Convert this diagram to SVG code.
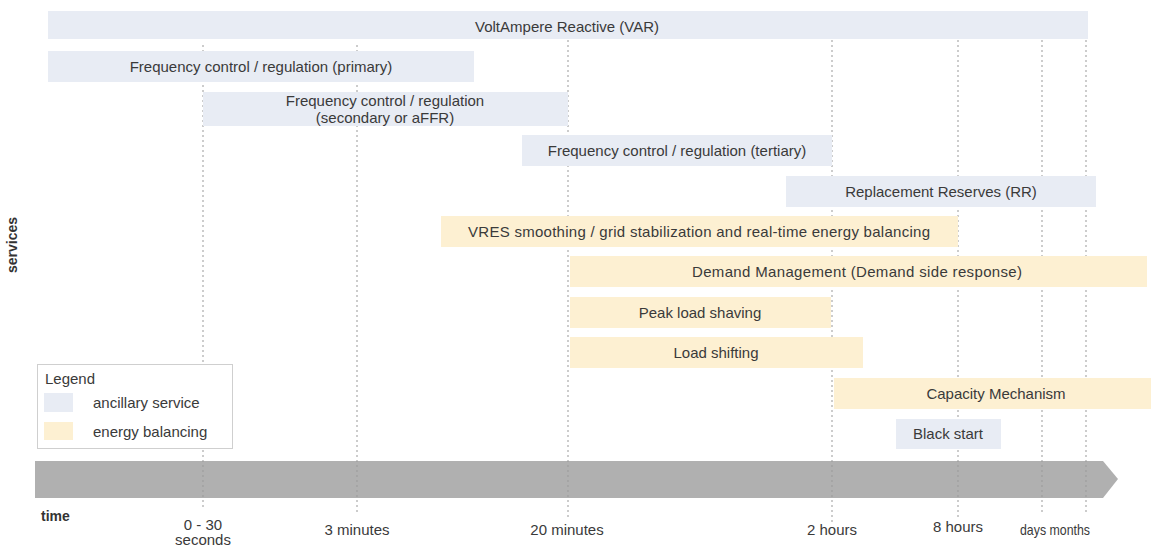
<svg xmlns="http://www.w3.org/2000/svg" width="1153" height="548" viewBox="0 0 1153 548">
<style>
  .bg{fill:#ffffff}
  .anc{fill:#e8ecf4}
  .eng{fill:#fdf0d2}
  .t{font-family:"Liberation Sans",Arial,sans-serif;font-size:15px;fill:#3a3a3a;text-anchor:middle}
  .tl{font-family:"Liberation Sans",Arial,sans-serif;font-size:15px;fill:#3a3a3a}
  .b{font-family:"Liberation Sans",Arial,sans-serif;font-size:14px;font-weight:bold;fill:#333}
  .grid{stroke:#999999;stroke-width:1;stroke-dasharray:2 3;fill:none}
</style>
<rect class="bg" x="0" y="0" width="1153" height="548"/>

<g id="time-axis">
  <polygon points="35,461 1103,461 1118,479 1103,498 35,498" fill="#b0b0b0"/>
</g>

<g id="gridlines">
  <line class="grid" x1="203" y1="45" x2="203" y2="510"/>
  <line class="grid" x1="357" y1="45" x2="357" y2="512"/>
  <line class="grid" x1="568" y1="40" x2="568" y2="520"/>
  <line class="grid" x1="832" y1="40" x2="832" y2="522"/>
  <line class="grid" x1="958" y1="40" x2="958" y2="520"/>
  <line class="grid" x1="1042" y1="40" x2="1042" y2="515"/>
  <line class="grid" x1="1086" y1="40" x2="1086" y2="512"/>
</g>

<g id="var">
  <rect class="anc" x="48" y="11" width="1040" height="28"/>
  <text class="t" x="567" y="32">VoltAmpere Reactive (VAR)</text>
</g>
<g id="primary">
  <rect class="anc" x="48" y="51" width="426" height="31"/>
  <text class="t" x="261" y="72">Frequency control / regulation (primary)</text>
</g>
<g id="secondary">
  <rect class="anc" x="203" y="92" width="365" height="34"/>
  <text class="t" x="385" y="106">Frequency control / regulation</text>
  <text class="t" x="385" y="123">(secondary or aFFR)</text>
</g>
<g id="tertiary">
  <rect class="anc" x="522" y="135" width="310" height="31"/>
  <text class="t" x="677" y="156">Frequency control / regulation (tertiary)</text>
</g>
<g id="rr">
  <rect class="anc" x="786" y="176" width="310" height="31"/>
  <text class="t" x="941" y="197">Replacement Reserves (RR)</text>
</g>
<g id="vres">
  <rect class="eng" x="441" y="216" width="517" height="31"/>
  <text class="t" x="699" y="237" textLength="462">VRES smoothing / grid stabilization and real-time energy balancing</text>
</g>
<g id="demand">
  <rect class="eng" x="570" y="256" width="577" height="31"/>
  <text class="t" x="857" y="277" textLength="330">Demand Management (Demand side response)</text>
</g>
<g id="peak">
  <rect class="eng" x="570" y="297" width="261" height="31"/>
  <text class="t" x="700" y="318">Peak load shaving</text>
</g>
<g id="shifting">
  <rect class="eng" x="570" y="337" width="293" height="31"/>
  <text class="t" x="716" y="358">Load shifting</text>
</g>
<g id="capacity">
  <rect class="eng" x="834" y="378" width="317" height="31"/>
  <text class="t" x="996" y="399">Capacity Mechanism</text>
</g>
<g id="blackstart">
  <rect class="anc" x="896" y="419" width="105" height="30"/>
  <text class="t" x="948" y="439">Black start</text>
</g>

<g id="legend">
  <rect x="37.5" y="364.5" width="195" height="84" fill="#ffffff" stroke="#cfcfcf"/>
  <text class="tl" x="45" y="384">Legend</text>
  <rect class="anc" x="44" y="393" width="29" height="19"/>
  <text class="tl" x="93" y="408">ancillary service</text>
  <rect class="eng" x="44" y="422" width="29" height="18"/>
  <text class="tl" x="93" y="437">energy balancing</text>
</g>

<g id="axis-labels">
  <text class="b" transform="translate(17,245) rotate(-90)" text-anchor="middle">services</text>
  <text class="b" x="41" y="521">time</text>
  <text class="t" x="203" y="530">0 - 30</text>
  <text class="t" x="203" y="545">seconds</text>
  <text class="t" x="357" y="535">3 minutes</text>
  <text class="t" x="567" y="535">20 minutes</text>
  <text class="t" x="832" y="535">2 hours</text>
  <text class="t" x="958" y="532">8 hours</text>
  <text class="t" x="1055" y="535" textLength="70" lengthAdjust="spacingAndGlyphs">days months</text>
</g>
</svg>
